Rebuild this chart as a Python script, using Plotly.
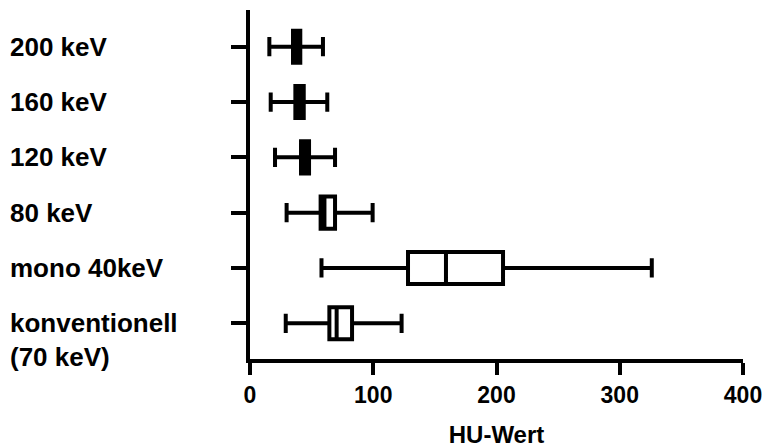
import plotly.graph_objects as go

# ---- data ----
categories = ["konventionell (70 keV)", "mono 40keV", "80 keV", "120 keV", "160 keV", "200 keV"]
label_lines = [["konventionell", "(70 keV)"], ["mono 40keV"], ["80 keV"], ["120 keV"], ["160 keV"], ["200 keV"]]
lower_whisker = [29.0, 58.0, 29.7, 20.3, 16.8, 15.7]
q1_values = [64.4, 128.2, 57.3, 41.4, 36.8, 34.9]
median_values = [70.3, 159.0, 60.4, 44.5, 40.0, 38.0]
q3_values = [82.8, 205.3, 69.0, 47.9, 43.6, 40.8]
upper_whisker = [123.0, 326.0, 99.5, 69.0, 62.7, 59.2]
x_tick_values = [0, 100, 200, 300, 400]
x_title = "HU-Wert"

# ---- styles ----
box_fill = ["white", "white", "white", "black", "black", "black"]
FONT = "Liberation Sans, Arial, sans-serif"

# the page body adds an 8px offset, compensated in the margins
W, H = 781, 448
ML, MR, MT, MB = 242, 46, 2, 97

fig = go.Figure()
for i, cat in enumerate(categories):
    fig.add_trace(go.Box(
        y=[cat],
        q1=[q1_values[i]], median=[median_values[i]], q3=[q3_values[i]],
        lowerfence=[lower_whisker[i]], upperfence=[upper_whisker[i]],
        orientation="h",
        fillcolor=box_fill[i],
        line=dict(color="black", width=4),
        whiskerwidth=0.6,
        width=0.58,
        boxpoints=False,
        showlegend=False,
        hoverinfo="skip",
    ))

annotations = []
plot_w = W - ML - MR
for cat, lines in zip(categories, label_lines):
    for j, line in enumerate(lines):
        annotations.append(dict(
            x=(0 - ML) / plot_w, xref="paper", xanchor="left",
            y=cat, yref="y", yanchor="middle", yshift=-34 * j,
            text=line, showarrow=False, align="left",
            font=dict(family=FONT, size=26, color="black", weight="bold"),
        ))

fig.update_layout(
    width=W, height=H,
    margin=dict(l=ML, r=MR, t=MT, b=MB),
    plot_bgcolor="white", paper_bgcolor="white",
    boxmode="overlay",
    annotations=annotations,
    xaxis=dict(
        range=[0, 400], tickvals=x_tick_values,
        showline=True, linecolor="black", linewidth=4,
        ticks="outside", ticklen=12, tickwidth=4, tickcolor="black",
        showgrid=False, zeroline=False, automargin=False,
        tickfont=dict(family=FONT, size=23, color="black", weight="bold"),
        title=dict(text=x_title, standoff=21,
                   font=dict(family=FONT, size=24, color="black", weight="bold")),
    ),
    yaxis=dict(
        type="category", categoryorder="array", categoryarray=categories,
        range=[-0.645, 5.663],
        showline=True, linecolor="black", linewidth=4,
        ticks="outside", ticklen=15, tickwidth=4, tickcolor="black",
        showgrid=False, zeroline=False, showticklabels=False, automargin=False,
    ),
)

fig.write_html("out.html")
